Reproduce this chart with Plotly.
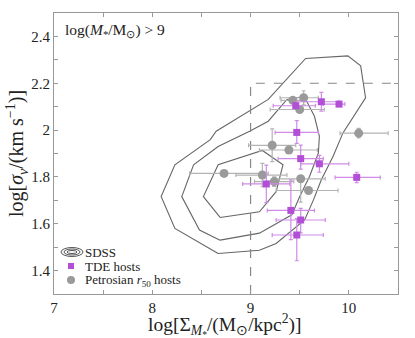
import plotly.graph_objects as go

# SDSS contour levels (outer, middle, inner), closed polygons
outer_x = [8.67, 8.23, 8.09, 8.23, 8.59, 8.65, 9.18, 9.56, 9.99, 10.12, 10.17, 9.94, 9.84, 9.72, 9.64, 9.55, 9.26, 9.09, 8.67]
outer_y = [1.473, 1.580, 1.716, 1.852, 1.959, 1.995, 2.131, 2.306, 2.317, 2.274, 2.138, 1.988, 1.888, 1.788, 1.702, 1.616, 1.516, 1.487, 1.473]
mid_x = [8.69, 8.48, 8.30, 8.42, 8.67, 8.99, 9.18, 9.37, 9.50, 9.57, 9.65, 9.70, 9.69, 9.60, 9.50, 9.42, 9.09, 8.69]
mid_y = [1.530, 1.573, 1.716, 1.852, 1.930, 1.995, 2.038, 2.131, 2.140, 2.124, 2.059, 1.973, 1.902, 1.802, 1.716, 1.638, 1.560, 1.530]
inner_x = [8.69, 8.52, 8.67, 9.12, 9.33, 9.26, 9.09, 8.69]
inner_y = [1.627, 1.716, 1.852, 1.913, 1.852, 1.737, 1.651, 1.627]

# TDE hosts
tde_x = [9.72, 9.90, 9.46, 9.47, 9.51, 9.70, 10.08, 9.16, 9.41, 9.51, 9.47]
tde_y = [2.121, 2.111, 2.104, 1.990, 1.878, 1.856, 1.798, 1.770, 1.657, 1.616, 1.552]
tde_xerr_p = [0.18, 0.06, 0.20, 0.22, 0.23, 0.30, 0.24, 0.24, 0.24, 0.25, 0.27]
tde_xerr_m = [0.25, 0.16, 0.23, 0.22, 0.23, 0.19, 0.22, 0.24, 0.24, 0.25, 0.25]
tde_yerr_p = [0.040, 0.0, 0.0, 0.050, 0.058, 0.036, 0.022, 0.080, 0.130, 0.050, 0.070]
tde_yerr_m = [0.040, 0.0, 0.0, 0.047, 0.045, 0.036, 0.022, 0.080, 0.125, 0.055, 0.110]

# Petrosian r50 hosts
pet_x = [9.43, 9.54, 9.50, 10.10, 9.22, 9.39, 8.73, 9.12, 9.24, 9.51, 9.59]
pet_y = [2.127, 2.138, 2.088, 1.987, 1.935, 1.915, 1.815, 1.808, 1.780, 1.792, 1.742]
pet_xerr_p = [0.12, 0.15, 0.25, 0.30, 0.24, 0.29, 0.45, 0.25, 0.20, 0.25, 0.30]
pet_xerr_m = [0.12, 0.24, 0.30, 0.19, 0.24, 0.30, 0.35, 0.27, 0.20, 0.25, 0.33]
pet_yerr_p = [0.01, 0.030, 0.01, 0.02, 0.070, 0.01, 0.01, 0.050, 0.02, 0.01, 0.01]
pet_yerr_m = [0.01, 0.030, 0.01, 0.02, 0.070, 0.01, 0.01, 0.050, 0.02, 0.100, 0.01]

purple = "#b24fd6"
purple_err = "#cf8be6"
grey = "#9a9a9a"
grey_err = "#b4b4b4"
font = "Liberation Serif"
txt = "#222222"

fig = go.Figure()

for cx, cy in [(outer_x, outer_y), (mid_x, mid_y), (inner_x, inner_y)]:
    fig.add_trace(go.Scatter(x=cx, y=cy, mode="lines", line=dict(color="#666666", width=1.1),
                             showlegend=False, hoverinfo="skip"))

# selection box
fig.add_trace(go.Scatter(x=[9, 9, 10.5], y=[1.3, 2.2, 2.2], mode="lines",
                         line=dict(color="#888888", width=1.2, dash="dash"), showlegend=False))

fig.add_trace(go.Scatter(
    x=pet_x, y=pet_y, mode="markers", showlegend=False,
    marker=dict(symbol="circle", size=9, color=grey),
    error_x=dict(type="data", array=pet_xerr_p, arrayminus=pet_xerr_m, color=grey_err, thickness=1.2, width=2),
    error_y=dict(type="data", array=pet_yerr_p, arrayminus=pet_yerr_m, color=grey_err, thickness=1.2, width=2),
))
fig.add_trace(go.Scatter(
    x=tde_x, y=tde_y, mode="markers", showlegend=False,
    marker=dict(symbol="square", size=7, color=purple),
    error_x=dict(type="data", array=tde_xerr_p, arrayminus=tde_xerr_m, color=purple_err, thickness=1.2, width=2),
    error_y=dict(type="data", array=tde_yerr_p, arrayminus=tde_yerr_m, color=purple_err, thickness=1.2, width=2),
))

axis_common = dict(showline=True, linecolor="#999999", linewidth=1, mirror="ticks", ticks="inside",
                   tickcolor="#999999", ticklen=4, showgrid=False, zeroline=False, automargin=False,
                   tickfont=dict(family=font, size=15, color=txt))
fig.update_xaxes(range=[7, 10.5], tickvals=[7, 8, 9, 10],
                 minor=dict(tickvals=[7.5, 8.5, 9.5], ticks="inside", ticklen=4, tickcolor="#999999"),
                 **axis_common)
fig.update_yaxes(range=[1.3, 2.5], tickvals=[1.4, 1.6, 1.8, 2.0, 2.2, 2.4],
                 minor=dict(tickvals=[1.5, 1.7, 1.9, 2.1, 2.3], ticks="inside", ticklen=4, tickcolor="#999999"),
                 **axis_common)

W, H, L, B = 344.0, 281.0, 54.0, 294.0
def px(x): return (x - L) / W
def py(y): return (B - y) / H

# axis titles
fig.add_annotation(x=px(225), y=py(325), xref="paper", yref="paper", xanchor="center", yanchor="middle",
                   showarrow=False, font=dict(family=font, size=19.5, color=txt),
                   text="log[Σ<sub><i>M</i><sub>*</sub></sub>/(M<sub>⊙</sub>/kpc<sup>2</sup>)]")
fig.add_annotation(x=px(17), y=py(154), xref="paper", yref="paper", xanchor="center", yanchor="middle",
                   showarrow=False, textangle=-90, font=dict(family=font, size=20, color=txt),
                   text="log[<i>σ<sub>v</sub></i>/(km s<sup>−1</sup>)]")

fig.add_annotation(x=px(63), y=py(30), xref="paper", yref="paper", xanchor="left", yanchor="middle", showarrow=False,
                   text="log(<i>M</i><sub>*</sub>/M<sub>⊙</sub>) > 9", font=dict(family=font, size=15.5, color=txt))

# hand-made legend (SDSS contour icon, TDE square, Petrosian circle)
shapes = []
for hw, hh in [(11, 4.5), (8, 3), (5, 1.5)]:
    shapes.append(dict(type="circle", xref="paper", yref="paper",
                       x0=px(72 - hw), x1=px(72 + hw), y0=py(252 + hh), y1=py(252 - hh),
                       line=dict(color="#555555", width=1)))
shapes.append(dict(type="rect", xref="paper", yref="paper", x0=px(68), x1=px(74), y0=py(269), y1=py(263),
                   fillcolor=purple, line=dict(width=0)))
shapes.append(dict(type="circle", xref="paper", yref="paper", x0=px(67), x1=px(75), y0=py(284), y1=py(276),
                   fillcolor=grey, line=dict(width=0)))
fig.update_layout(shapes=shapes)

for label, yy in [("SDSS", 252), ("TDE hosts", 266), ("Petrosian <i>r</i><sub>50</sub> hosts", 280)]:
    fig.add_annotation(x=px(83), y=py(yy), xref="paper", yref="paper", xanchor="left", yanchor="middle",
                       showarrow=False, text=label, font=dict(family=font, size=13, color=txt))

fig.update_layout(
    width=415, height=338, margin=dict(l=54, r=17, t=13, b=44),
    paper_bgcolor="white", plot_bgcolor="white", showlegend=False,
)

fig.write_html("out.html", config={"displayModeBar": False},
               post_script="document.body.style.margin='0';")
